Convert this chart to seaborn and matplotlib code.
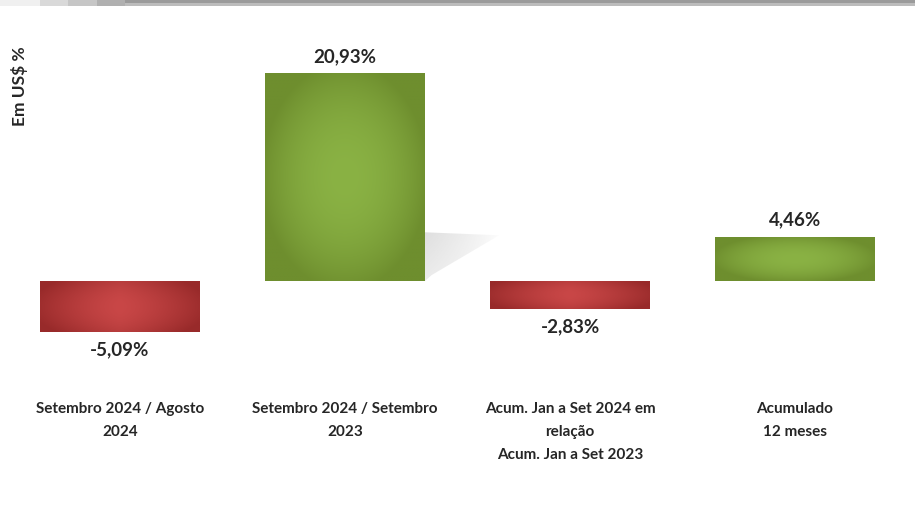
import numpy as np
import pandas as pd
import matplotlib
matplotlib.use('Agg')
import matplotlib.pyplot as plt
import seaborn as sns
from matplotlib.patches import Rectangle, Polygon
from matplotlib.colors import to_rgb

# dados do gráfico
categorias = [
    "Setembro 2024 / Agosto\n2024",
    "Setembro 2024 / Setembro\n2023",
    "Acum. Jan a Set 2024 em\nrelação\nAcum. Jan a Set 2023",
    "Acumulado\n12 meses",
]
valores = [-5.09, 20.93, -2.83, 4.46]

df = pd.DataFrame({"cat": categorias, "valor": valores})

sns.set_theme(style="white")
plt.rcParams['font.family'] = ['Lato', 'DejaVu Sans']

fig = plt.figure(figsize=(9.15, 5.06), dpi=100)
ax = fig.add_axes([7.5 / 915, 1 - 380 / 506, 900 / 915, 350 / 506])

sns.barplot(data=df, x="cat", y="valor", ax=ax, width=0.711, color="#888888",
            edgecolor="none", saturation=1)

ax.set_xlim(-0.5, 3.5)
ax.set_ylim(-9.86, 25.35)
for s in ax.spines.values():
    s.set_visible(False)
ax.set_yticks([])
ax.set_ylabel("")
ax.set_xlabel("")
ax.tick_params(axis='x', length=0, pad=16)
ax.set_xticks(range(len(categorias)))
ax.set_xticklabels(categorias, fontsize=11, fontweight='bold', color='#262626',
                   linespacing=1.8, va='top')


def gradiente(c_centro, c_borda, radial):
    nx, ny = 120, 60
    xs = np.linspace(-1, 1, nx)
    ys = np.linspace(-1, 1, ny)
    X, Y = np.meshgrid(xs, ys)
    if radial:
        d = np.clip(np.sqrt((X * 0.95) ** 2 + (Y * 0.9) ** 2), 0, 1) ** 2
    else:
        d = np.clip(np.abs(X) ** 1.3 * 0.85 + np.abs(Y) ** 2 * 0.35, 0, 1)
    c0 = np.array(to_rgb(c_centro))
    c1 = np.array(to_rgb(c_borda))
    img = c0[None, None, :] * (1 - d[..., None]) + c1[None, None, :] * d[..., None]
    return img


verde = gradiente("#8ab244", "#6e8e2e", True)
vermelho = gradiente("#c94747", "#982a2a", False)

for p, v in zip(ax.patches, valores):
    x0 = p.get_x()
    x1 = x0 + p.get_width()
    y0, y1 = sorted([p.get_y(), p.get_y() + p.get_height()])
    img = verde if v >= 0 else vermelho
    # sombra suave à direita
    if v > 10:
        sombra = Polygon([(x1, 4.9), (x1 + 0.33, 4.6), (x1 + 0.03, 0.6), (x1, 0)],
                         closed=True, facecolor='none', edgecolor='none')
        ax.add_patch(sombra)
        gx = np.linspace(0, 1, 100)[None, :]
        gy = np.linspace(1, 0, 40)[:, None]
        rgba = np.zeros((40, 100, 4))
        rgba[..., :3] = 0.6
        rgba[..., 3] = 0.32 * (1 - gx) ** 0.8 * (0.6 + 0.4 * gy)
        im_s = ax.imshow(rgba, extent=[x1, x1 + 0.34, 0, 5], aspect='auto',
                         zorder=1, interpolation='bilinear')
        im_s.set_clip_path(sombra)
    im = ax.imshow(img, extent=[x0, x1, y0, y1], aspect='auto', zorder=3,
                   interpolation='bilinear')
    im.set_clip_path(p)
    p.set_zorder(2)
    # rótulo do valor
    txt = f"{v:.2f}".replace('.', ',') + '%'
    if v >= 0:
        ax.annotate(txt, (p.get_x() + p.get_width() / 2, y1), xytext=(0, 6.5),
                    textcoords='offset points', ha='center', va='bottom',
                    fontsize=13.5, fontweight='bold', color='#262626')
    else:
        ax.annotate(txt, (p.get_x() + p.get_width() / 2, y0), xytext=(0, -6),
                    textcoords='offset points', ha='center', va='top',
                    fontsize=13.5, fontweight='bold', color='#262626')

ax.set_xlim(-0.5, 3.5)
ax.set_ylim(-9.86, 25.35)

fig.text(20 / 915, 1 - 86 / 506, "Em US$ %", rotation=90, ha='center', va='center',
         fontsize=12.5, fontweight='bold', color='#262626')

# faixa cinza no topo
H = 506
fig.add_artist(Rectangle((125 / 915, 1 - 4 / H), 1, 4 / H, transform=fig.transFigure,
                         color='#9b9b9b', lw=0))
fig.add_artist(Rectangle((125 / 915, 1 - 7 / H), 1, 3 / H, transform=fig.transFigure,
                         color='#bcbcbc', lw=0))
for xa, xb, c in [(0, 40, '#f0f0f0'), (40, 68, '#d9d9d9'), (68, 97, '#c6c6c6'),
                  (97, 125, '#b0b0b0')]:
    fig.add_artist(Rectangle((xa / 915, 1 - 7 / H), (xb - xa) / 915, 7 / H,
                             transform=fig.transFigure, color=c, lw=0))

fig.savefig("out.png", dpi=100)
